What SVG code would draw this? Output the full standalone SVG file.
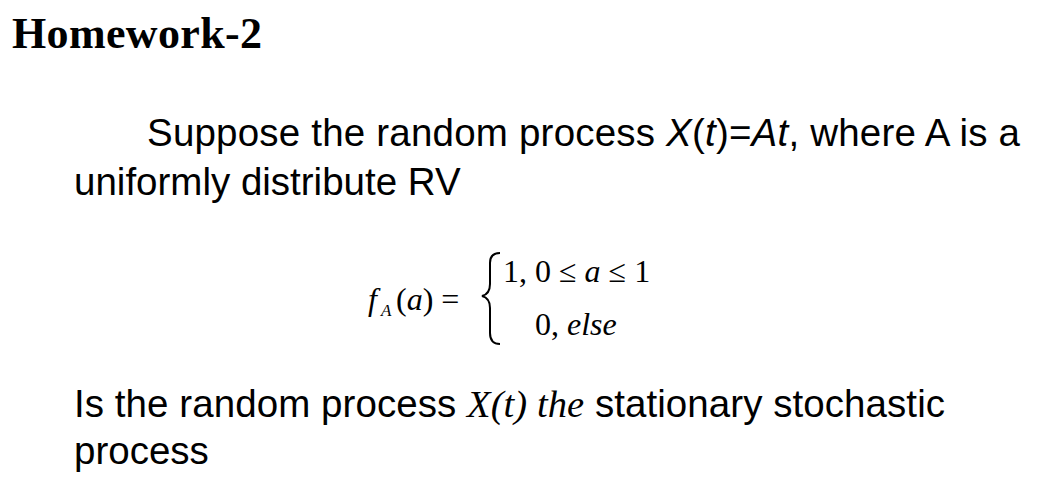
<svg xmlns="http://www.w3.org/2000/svg" width="1050" height="487" viewBox="0 0 1050 487" xml:space="preserve">
<style>
.s{font-family:"Liberation Sans",Arial,sans-serif;font-size:38.5px;fill:#000}
.m{font-family:"Liberation Serif","Times New Roman",serif;font-size:32px;fill:#000}
</style>
<rect width="1050" height="487" fill="#fff"/>
<text x="12" y="48" font-family="Liberation Serif,serif" font-weight="bold" font-size="44" textLength="250">Homework-2</text>
<text class="s" x="147" y="146" textLength="873">Suppose the random process <tspan font-style="italic">X</tspan>(<tspan font-style="italic">t</tspan>)=<tspan font-style="italic">At</tspan>, where A is a</text>
<text class="s" x="74" y="195">uniformly distribute RV</text>
<g class="m">
<text x="368" y="310" font-style="italic">f</text>
<text x="381" y="316" font-size="17" font-style="italic">A</text>
<text x="396" y="310">(<tspan font-style="italic">a</tspan>) =</text>
<path d="M500,253 Q490,253 490,263 L490,284 Q490,294 482,296 Q490,298 490,308 L490,333 Q490,344 500,344" fill="none" stroke="#000" stroke-width="2"/>
<text x="503" y="282">1,  0 ≤ <tspan font-style="italic">a</tspan> ≤ 1</text>
<text x="535" y="335">0,  <tspan font-style="italic">else</tspan></text>
</g>
<text class="s" x="74" y="417" textLength="871">Is the random process <tspan font-family="Liberation Serif,serif" font-style="italic">X(t) the</tspan> stationary stochastic</text>
<text class="s" x="74" y="464">process</text>
</svg>
